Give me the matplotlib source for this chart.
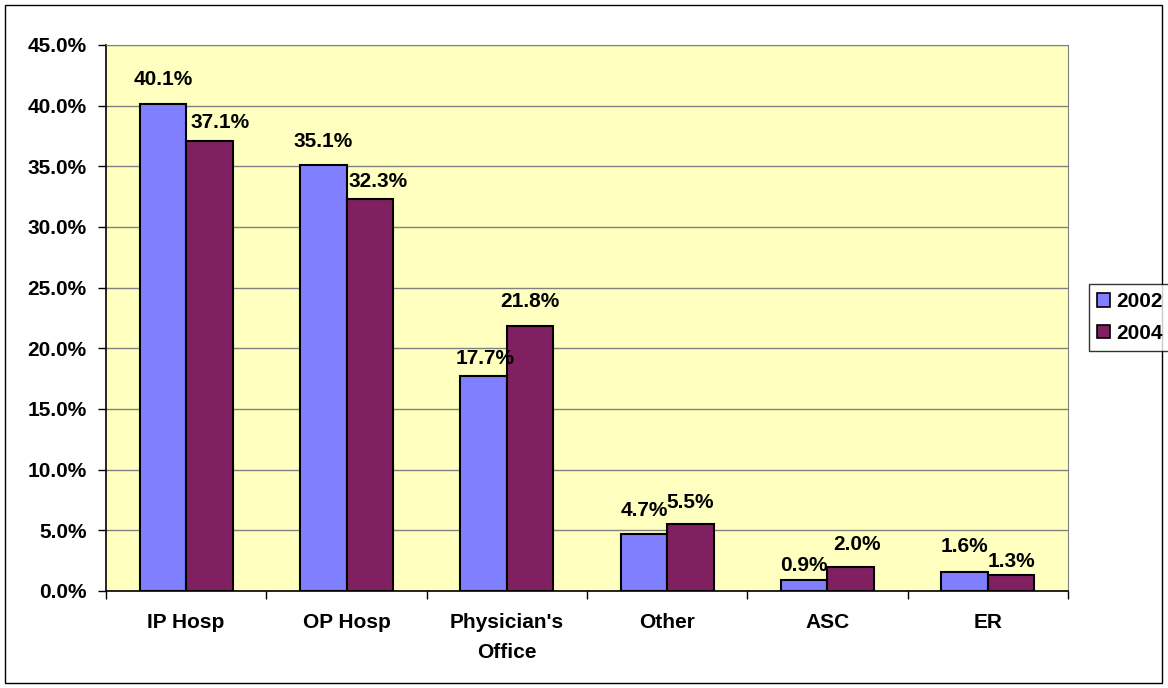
import numpy as np
import matplotlib.pyplot as plt
from matplotlib.patches import Rectangle, Patch

plt.rcParams['font.family'] = ['Liberation Sans', 'DejaVu Sans']
plt.rcParams['font.weight'] = 'bold'

categories = ["IP Hosp", "OP Hosp", "Physician's\nOffice", "Other", "ASC", "ER"]
years = ["2002", "2004"]
share_2002 = [40.1, 35.1, 17.7, 4.7, 0.9, 1.6]
share_2004 = [37.1, 32.3, 21.8, 5.5, 2.0, 1.3]

# label offsets in pixels (dx, dy), as placed in the original
off_2002 = [(0, 25), (0, 24), (2, 18), (0, 23), (0, 15), (0, 25)]
off_2004 = [(11, 18), (8, 18), (0, 25), (0, 22), (6, 22), (0, 14)]

W, H = 1168, 688
FS = 15
fig = plt.figure(figsize=(W / 100, H / 100), dpi=100)
ax = fig.add_axes([106 / W, 1 - 591 / H, (1068 - 106) / W, (591 - 45) / H])
ax.set_facecolor('#FFFFC0')

x = np.arange(len(categories))
bw = 0.29
b1 = ax.bar(x - bw / 2, share_2002, bw, color='#8080FF', edgecolor='black', lw=1.5, zorder=3)
b2 = ax.bar(x + bw / 2, share_2004, bw, color='#802060', edgecolor='black', lw=1.5, zorder=3)

for bars, vals, offs in [(b1, share_2002, off_2002), (b2, share_2004, off_2004)]:
    for b, v, (dx, dy) in zip(bars, vals, offs):
        ax.annotate(f"{v:.1f}%", (b.get_x() + b.get_width() / 2, v),
                    xytext=(dx, dy), textcoords='offset pixels',
                    ha='center', va='center', fontsize=FS, fontweight='bold', zorder=4)

ax.set_ylim(0, 45)
ax.set_yticks(np.arange(0, 46, 5))
ax.set_yticklabels([f"{t:.1f}%" for t in np.arange(0, 46, 5)])
ax.yaxis.grid(True, color='#808080', lw=1, zorder=0)
ax.set_xlim(-0.5, len(categories) - 0.5)
ax.set_xticks(x)
ax.set_xticklabels(categories, linespacing=1.7)
ax.set_xticks(np.arange(-0.5, len(categories)), minor=True)
ax.tick_params(axis='x', which='major', length=0, pad=16, labelsize=FS)
ax.tick_params(axis='x', which='minor', length=6, width=1)
ax.tick_params(axis='y', length=6, width=1, pad=8, labelsize=FS)
for lab in ax.get_xticklabels() + ax.get_yticklabels():
    lab.set_fontweight('bold')

ax.spines['left'].set_color('black')
ax.spines['bottom'].set_color('black')
ax.spines['left'].set_linewidth(1.2)
ax.spines['bottom'].set_linewidth(1.2)
ax.spines['top'].set_color('#808080')
ax.spines['right'].set_color('#808080')

handles = [Patch(facecolor='#8080FF', edgecolor='black', lw=1.2),
           Patch(facecolor='#802060', edgecolor='black', lw=1.2)]
leg = fig.legend(handles, years, loc='upper left',
                 bbox_to_anchor=(1089 / W, 1 - 284 / H), fancybox=False,
                 edgecolor='black', handlelength=0.6, handleheight=0.6,
                 handletextpad=0.3, borderpad=0.4, borderaxespad=0,
                 labelspacing=0.6, prop={'weight': 'bold', 'size': FS})
leg.get_frame().set_linewidth(1)

fig.add_artist(Rectangle((5 / W, 5 / H), (W - 11) / W, (H - 10) / H,
                         transform=fig.transFigure, fill=False, ec='black', lw=1))

fig.savefig('out.png', dpi=100)
